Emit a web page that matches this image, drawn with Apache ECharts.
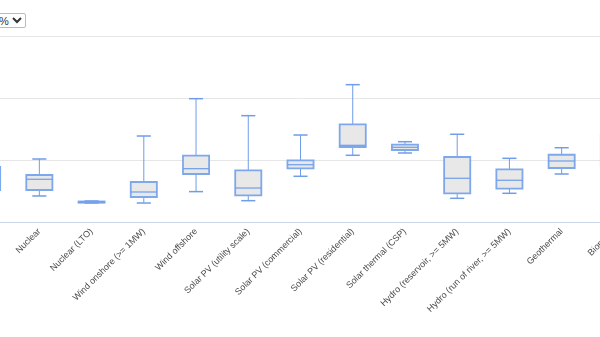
<!DOCTYPE html>
<html>
<head>
<meta charset="utf-8">
<script src="https://cdn.jsdelivr.net/npm/echarts@6/dist/echarts.min.js"></script>
<style>
  html,body{margin:0;padding:0;background:#fff;overflow:hidden;width:600px;height:337px;}
  #chart{position:absolute;left:-100px;top:0;width:740px;height:337px;}
  #rate{position:absolute;left:-14px;top:13px;width:40px;height:15px;font:11px "Liberation Sans",Arial,sans-serif;z-index:5;padding:0 0 0 2px;border:1px solid #bbb;border-radius:2px;background:#fff;color:#333;}
</style>
</head>
<body>
<div id="chart"></div>
<select id="rate"><option>3%</option><option selected>7%</option><option>10%</option></select>
<script>
// LCOE (USD/MWh) at 7% discount rate, box plot statistics per technology
const categories = ["Gas (CCGT)", "Nuclear", "Nuclear (LTO)", "Wind onshore (>= 1MW)", "Wind offshore",
  "Solar PV (utility scale)", "Solar PV (commercial)", "Solar PV (residential)", "Solar thermal (CSP)",
  "Hydro (reservoir, >= 5MW)", "Hydro (run of river, >= 5MW)", "Geothermal", "Biomass"];
const lowValues    = [45,  42,  30.6, 30.6, 49,  34.4, 73.7, 107.6, 111.3, 38.2, 46.3, 77.4, 60];
const q1Values     = [51.6, 51.6, 31.1, 40.3, 77.4, 43.1, 86.6, 121,  116.1, 46.3, 53.7, 87.1, 90];
const medianValues = [71,  68.9, 32.3, 48.4, 86,  54.8, 92.4, 123.7, 120.5, 70.5, 67.3, 98.4, 110];
const q3Values     = [88.7, 75.8, 33.1, 64.5, 106.9, 83.4, 99.5, 157.6, 124.7, 104.8, 85, 108.5, 140];
const highValues   = [100, 101.6, 33.9, 138.7, 198.9, 171.5, 140.3, 221.5, 129.5, 141.5, 102.7, 119.8, 200];
const yTicks = {min: 0, max: 300, interval: 100};

const data = categories.map((c, i) => [i, lowValues[i], q1Values[i], medianValues[i], q3Values[i], highValues[i]]);

const lineColor = '#6f9de9';
function renderItem(params, api) {
  const x = api.value(0);
  const pLow = api.coord([x, api.value(1)]);
  const pQ1 = api.coord([x, api.value(2)]);
  const pMed = api.coord([x, api.value(3)]);
  const pQ3 = api.coord([x, api.value(4)]);
  const pHigh = api.coord([x, api.value(5)]);
  const band = api.size([1, 0])[0];
  const bw = band * 0.5;
  const cw = band * 0.27;
  const cx = pMed[0];
  const ls = {stroke: lineColor, lineWidth: 1, fill: null};
  return {
    type: 'group',
    children: [
      {type: 'line', shape: {x1: cx, y1: pHigh[1], x2: cx, y2: pQ3[1]}, style: ls},
      {type: 'line', shape: {x1: cx, y1: pQ1[1], x2: cx, y2: pLow[1]}, style: ls},
      {type: 'line', shape: {x1: cx - cw / 2, y1: pHigh[1], x2: cx + cw / 2, y2: pHigh[1]}, style: {stroke: lineColor, lineWidth: 1.5}},
      {type: 'line', shape: {x1: cx - cw / 2, y1: pLow[1], x2: cx + cw / 2, y2: pLow[1]}, style: {stroke: lineColor, lineWidth: 1.5}},
      {type: 'rect', shape: {x: cx - bw / 2, y: pQ3[1], width: bw, height: pQ1[1] - pQ3[1]},
        style: {fill: '#e8e8e8', stroke: '#7ea8ec', lineWidth: 1.8}},
      {type: 'line', shape: {x1: cx - bw / 2, y1: pMed[1], x2: cx + bw / 2, y2: pMed[1]}, style: {stroke: lineColor, lineWidth: 1.2}}
    ]
  };
}

const chart = echarts.init(document.getElementById('chart'), null, {renderer: 'canvas'});
chart.setOption({
  animation: false,
  backgroundColor: '#ffffff',
  grid: {left: 61, right: 0, top: 36, bottom: 115, containLabel: false},
  xAxis: {
    type: 'category',
    data: categories,
    axisLine: {lineStyle: {color: '#ccd6eb', width: 1}},
    axisTick: {show: false},
    splitLine: {show: false},
    axisLabel: {
      interval: 0, rotate: 45, margin: 8,
      fontFamily: '"Liberation Sans", Arial, sans-serif', fontSize: 9, color: '#4a4a4a'
    }
  },
  yAxis: {
    type: 'value',
    min: yTicks.min, max: yTicks.max, interval: yTicks.interval,
    name: 'USD/MWh',
    nameTextStyle: {color: '#666', fontSize: 11, align: 'right'},
    axisLine: {show: false},
    axisTick: {show: false},
    splitLine: {lineStyle: {color: '#e6e6e6', width: 1}},
    axisLabel: {fontFamily: '"Liberation Sans", Arial, sans-serif', fontSize: 11, color: '#666'}
  },
  series: [{
    type: 'custom',
    name: 'LCOE',
    renderItem: renderItem,
    encode: {x: 0, y: [1, 2, 3, 4, 5]},
    data: data,
    clip: false
  }]
});
</script>
</body>
</html>
